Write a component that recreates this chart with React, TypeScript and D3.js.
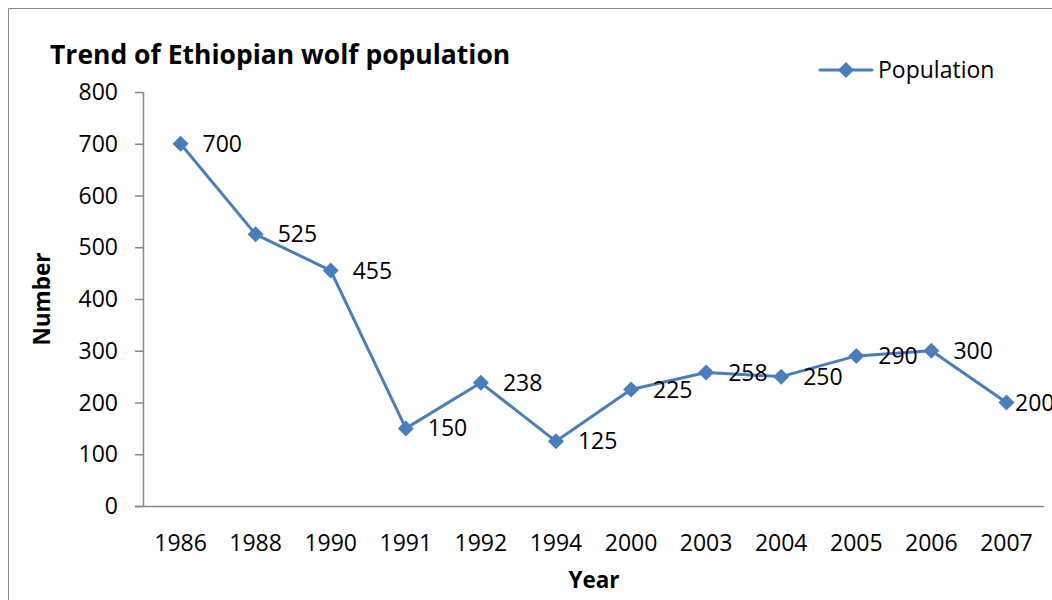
import React from 'react';
import * as d3 from 'd3';

// Ethiopian wolf population counts
const years = ['1986', '1988', '1990', '1991', '1992', '1994', '2000', '2003', '2004', '2005', '2006', '2007'];
const population = [700, 525, 455, 150, 238, 125, 225, 258, 250, 290, 300, 200];
const yTicks = [0, 100, 200, 300, 400, 500, 600, 700, 800];

const W = 1052;
const H = 600;
const margin = { top: 92, right: 8, bottom: 94, left: 143 };
const blue = '#4A7EBB';
const axisGrey = '#868686';
const font = '"Open Sans", Lato, sans-serif';
const fs = 23;

const App = () => {
  const x = d3.scaleBand<string>()
    .domain(years)
    .range([margin.left, W - margin.right]);

  const y = d3.scaleLinear()
    .domain([0, 800])
    .range([H - margin.bottom, margin.top]);

  const cx = (d: string) => (x(d) as number) + x.bandwidth() / 2;

  const line = d3.line<number>()
    .x((d, i) => cx(years[i]))
    .y(d => y(d));

  const diamond = (s: number) => `M0,${-s}L${s},0L0,${s}L${-s},0Z`;

  return (
    <div style={{ position: 'fixed', left: 0, top: 0 }}>
      <svg width={W} height={H} style={{ display: 'block', background: '#fff' }}>
        {/* chart frame */}
        <line x1={8.5} y1={8.5} x2={W} y2={8.5} stroke={axisGrey} strokeWidth={1} />
        <line x1={8.5} y1={8.5} x2={8.5} y2={H} stroke={axisGrey} strokeWidth={1} />

        {/* title */}
        <text x={50} y={64} fontFamily={font} fontWeight="bold" fontSize={26.5} fill="#000">
          Trend of Ethiopian wolf population
        </text>

        {/* y axis */}
        <line x1={margin.left + 0.5} y1={y(800)} x2={margin.left + 0.5} y2={y(0)} stroke={axisGrey} strokeWidth={1.5} />
        {yTicks.map(t => (
          <g key={t}>
            <line x1={margin.left - 8} x2={margin.left} y1={y(t) + 0.5} y2={y(t) + 0.5} stroke={axisGrey} strokeWidth={1.5} />
            <text x={margin.left - 25} y={y(t)} dy="0.35em" textAnchor="end" fontFamily={font} fontSize={fs} fill="#000">
              {t}
            </text>
          </g>
        ))}

        {/* x axis */}
        <line x1={margin.left - 8} x2={W - margin.right} y1={y(0) + 0.5} y2={y(0) + 0.5} stroke={axisGrey} strokeWidth={1.5} />
        {years.map(d => (
          <text key={d} x={cx(d)} y={y(0) + 37} dy="0.35em" textAnchor="middle" fontFamily={font} fontSize={fs} fill="#000">
            {d}
          </text>
        ))}

        {/* axis titles */}
        <text x={594} y={588} textAnchor="middle" fontFamily={font} fontWeight="bold" fontSize={22.5} fill="#000">
          Year
        </text>
        <text transform={`translate(42,${(y(0) + y(800)) / 2}) rotate(-90)`} dy="0.35em" textAnchor="middle"
          fontFamily={font} fontWeight="bold" fontSize={22.5} fill="#000">
          Number
        </text>

        {/* series */}
        <path d={line(population) || ''} fill="none" stroke={blue} strokeWidth={3} strokeLinejoin="round" />
        {population.map((v, i) => (
          <path key={i} d={diamond(8)} transform={`translate(${cx(years[i])},${y(v)})`} fill={blue} />
        ))}
        {population.map((v, i) => (
          <text key={'l' + i} x={Math.min(cx(years[i]) + 22, W - 37)} y={y(v)} dy="0.35em" fontFamily={font} fontSize={fs} fill="#000">
            {v}
          </text>
        ))}

        {/* legend */}
        <line x1={820} x2={872} y1={70} y2={70} stroke={blue} strokeWidth={3} strokeLinecap="round" />
        <path d={diamond(8)} transform="translate(846,70)" fill={blue} />
        <text x={878} y={70} dy="0.35em" fontFamily={font} fontSize={fs} fill="#000">Population</text>
      </svg>
    </div>
  );
};

export default App;
